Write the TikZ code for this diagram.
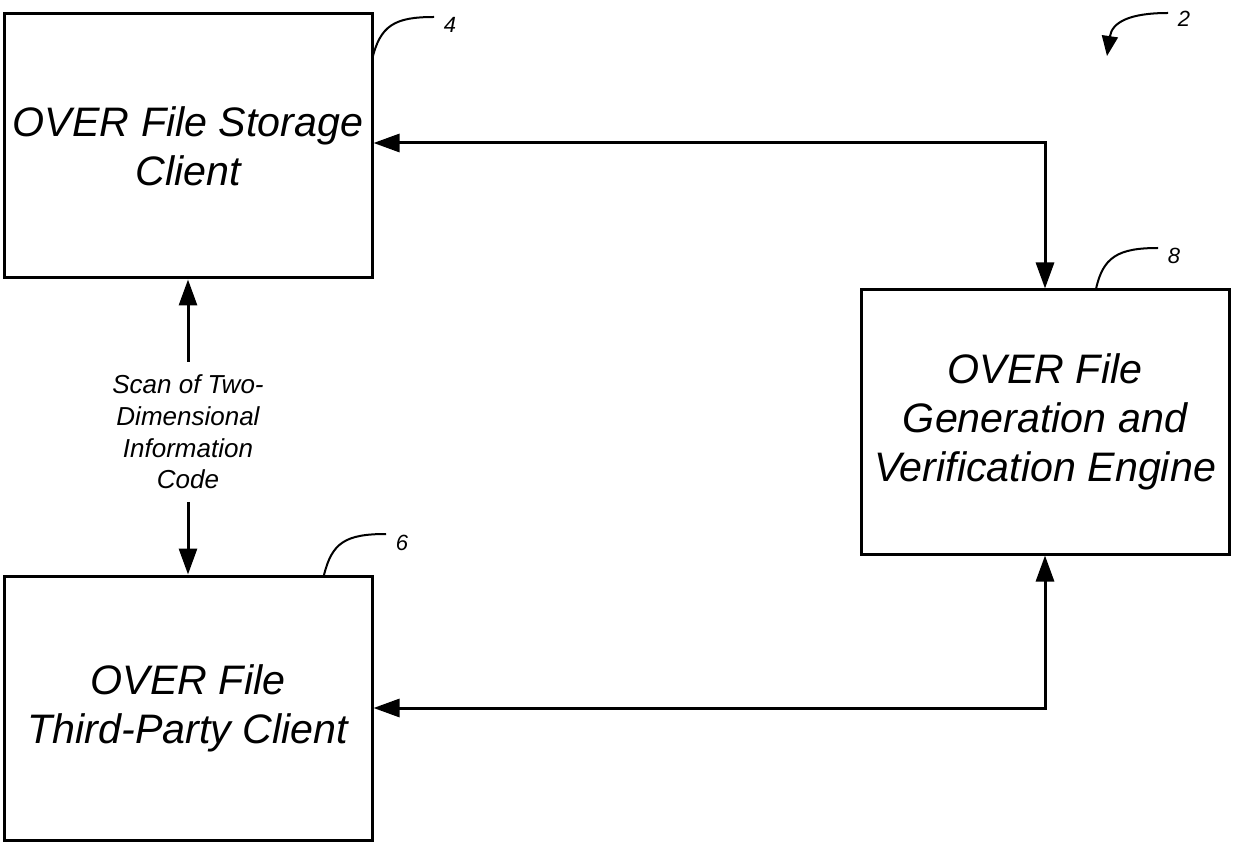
\documentclass[tikz,border=0pt]{standalone}
\usepackage{fontspec}
\setmainfont{Liberation Sans}
\usetikzlibrary{arrows.meta}
\begin{document}
\begin{tikzpicture}[x=0.5pt,y=-0.5pt,
  block/.style={draw,line width=1.5pt,minimum width=184pt,minimum height=132pt,
    inner sep=0pt,align=center,font=\fontsize{20.6}{24.5}\selectfont\itshape},
  link/.style={line width=1.5pt,arrows={Triangle[length=13pt,width=9pt]-Triangle[length=13pt,width=9pt]}},
  oneway/.style={line width=1.5pt,-{Triangle[length=13pt,width=9pt]}},
  leader/.style={line width=1pt},
  refnum/.style={font=\fontsize{11}{12}\selectfont\itshape,inner sep=0pt},
  caption/.style={align=center,font=\fontsize{13}{15.8}\selectfont\itshape}]
\useasboundingbox (0,0) rectangle (1237,844);

% blocks
\node[block] (store) at (188,146) {OVER File Storage\\Client};
\node[block] (third) at (188,708) {OVER File\\Third-Party Client};
\node[block] (engine) at (1045,422) {OVER File\\Generation and\\Verification Engine};

% exchanges with the engine
\draw[link] (store.east |- 0,143) -| (engine.north);
\draw[link] (third.east) -| (engine.south);

% scan between the two clients
\node[caption] (scan) at (188,432) {Scan of Two-\\Dimensional\\Information\\Code};
\coordinate (scanTop) at (188,362);
\coordinate (scanBot) at (188,502);
\draw[oneway] (scanTop) -- (store.south);
\draw[oneway] (scanBot) -- (third.north);

% reference numerals with their leaders
\node[refnum] (n4) at (450,25) {4};
\coordinate (a4) at (372,60);
\coordinate (e4) at (434,17);
\draw[leader] (a4) .. controls (380,25) and (395,17) .. (e4);

\node[refnum] (n6) at (402,543) {6};
\coordinate (a6) at (324,575);
\coordinate (e6) at (386,534);
\draw[leader] (a6) .. controls (332,543) and (345,534) .. (e6);

\node[refnum] (n8) at (1174,256) {8};
\coordinate (a8) at (1096,289);
\coordinate (e8) at (1158,248);
\draw[leader] (a8) .. controls (1103,257) and (1118,248) .. (e8);

\node[refnum] (n2) at (1184,19) {2};
\coordinate (s2) at (1168,13);
\coordinate (a2) at (1107,56);
\draw[leader,-{Triangle[length=10pt,width=8pt]}] (s2) .. controls (1130,13) and (1112,22) .. (a2);
\end{tikzpicture}
\end{document}
